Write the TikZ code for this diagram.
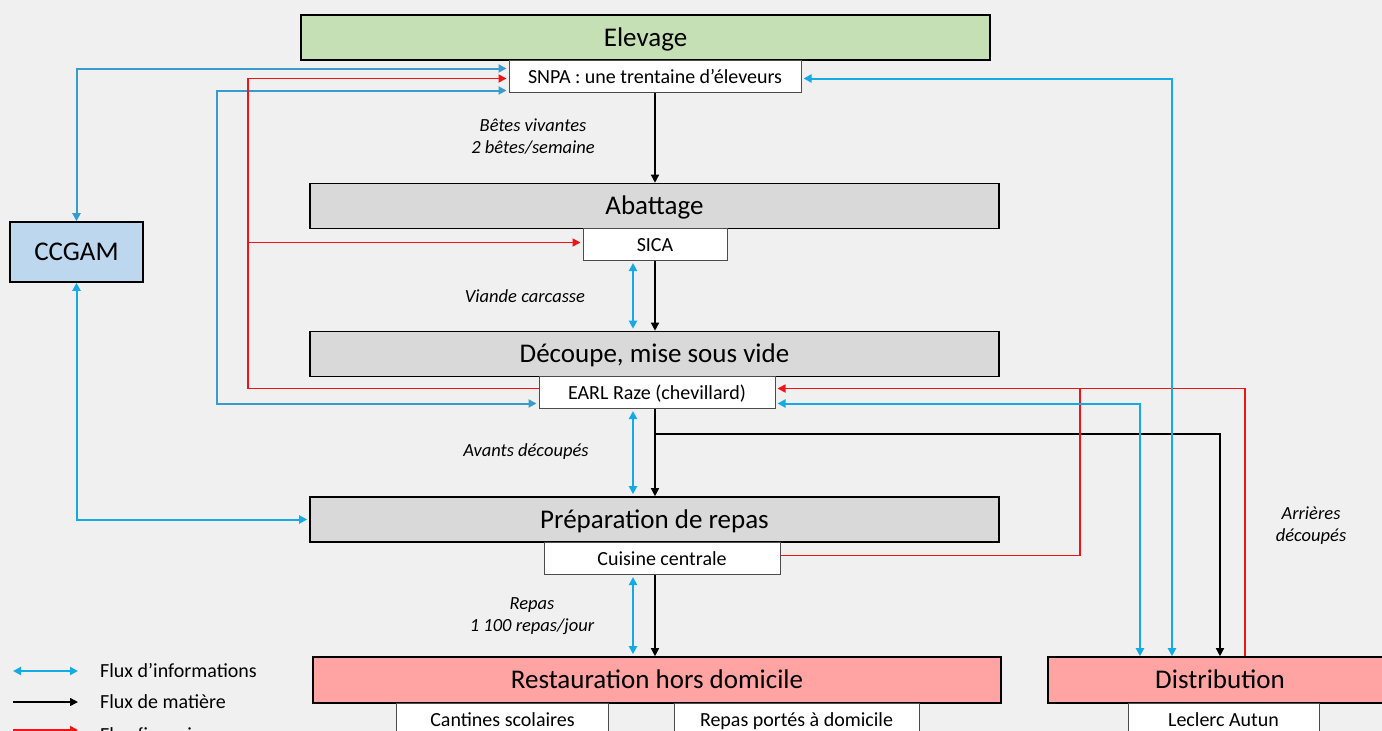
\documentclass[tikz,border=0pt]{standalone}
\usepackage{fontspec}
\setmainfont{Carlito}
\usepackage{xcolor}
\usetikzlibrary{arrows.meta,positioning,calc}
\definecolor{fondgris}{RGB}{240,240,240}
\definecolor{vertelev}{RGB}{197,224,180}
\definecolor{grisetape}{RGB}{217,217,217}
\definecolor{roseaval}{RGB}{255,163,163}
\definecolor{bleuccgam}{RGB}{189,215,238}
\definecolor{bleuinfo}{RGB}{20,170,230}
\definecolor{bleusombre}{RGB}{55,155,205}
\definecolor{rougefin}{RGB}{240,20,20}
\tikzstyle{etape} = [draw, line width=1.6pt, minimum width=689pt, minimum height=45pt, inner sep=0pt, text height=20pt, text depth=3pt, font=\fontsize{27}{32}\selectfont]
\tikzstyle{acteur} = [draw=black!70, line width=1pt, fill=white, minimum height=32pt, inner sep=0pt, text height=15pt, text depth=2pt, anchor=north, font=\fontsize{20}{24}\selectfont]
\tikzstyle{flux} = [font=\fontsize{18.5}{22}\selectfont\itshape, align=center]
\tikzstyle{legende} = [anchor=west, inner sep=0pt, font=\fontsize{20}{24}\selectfont]
\tikzstyle{info} = [line width=2pt, bleuinfo]
\tikzstyle{matiere} = [line width=1.4pt, black]
\tikzstyle{financier} = [line width=1.7pt, rougefin]

\begin{document}
\begin{tikzpicture}[x=1pt, y=-1pt, >={Triangle[length=8pt,width=8pt]}]
\fill[fondgris] (0,0) rectangle (1382,731);
\useasboundingbox (0,0) rectangle (1382,731);

\node[etape, fill=vertelev] (elev) at (645.5,37.5) {Elevage};
\node[acteur, minimum width=292pt] (snpa) at (655,60) {SNPA : une trentaine d’éleveurs};
\node[etape, fill=grisetape] (abat) at (654.5,206) {Abattage};
\node[acteur, minimum width=144pt] (sica) at (655,228) {SICA};
\node[etape, fill=grisetape] (decoup) at (654.5,354) {Découpe, mise sous vide};
\node[acteur, minimum width=236pt] (earl) at (657,376) {EARL Raze (chevillard)};
\node[etape, fill=grisetape] (prep) at (654.5,519.5) {Préparation de repas};
\node[acteur, minimum width=236pt] (cuis) at (662,542) {Cuisine centrale};
\node[etape, fill=roseaval, minimum width=688pt, minimum height=46pt] (resto) at (657,680) {Restauration hors domicile};
\node[acteur, minimum width=212pt] (cant) at (502.5,703) {Cantines scolaires};
\node[acteur, minimum width=245pt] (portes) at (796.5,703) {Repas portés à domicile};
\node[etape, fill=roseaval, minimum width=344pt, minimum height=46pt] (distr) at (1220,680) {Distribution};
\node[acteur, minimum width=191pt] (lecl) at (1223.5,703) {Leclerc Autun};
\node[etape, fill=bleuccgam, minimum width=133pt, minimum height=60pt] (ccgam) at (76.5,252) {CCGAM};

\node[flux] (l1) at (533,137) {Bêtes vivantes\\2 bêtes/semaine};
\node[flux] (l2) at (525,296) {Viande carcasse};
\node[flux] (l3) at (526,452) {Avants découpés};
\node[flux] (l4) at (532,616) {Repas\\1 100 repas/jour};
\node[flux] (l5) at (1311,526) {Arrières\\découpés};

\coordinate (matx) at (655,0);
\coordinate (infx) at (633,0);
\coordinate (rougeg) at (248,0);
\coordinate (bleug) at (217,0);
\coordinate (rouged) at (1080,0);
\coordinate (bifurc) at (655,434);

\draw[matiere,->] (snpa.south -| matx) -- (abat.north -| matx);
\draw[matiere,->] (sica.south -| matx) -- (decoup.north -| matx);
\draw[matiere,->] (earl.south -| matx) -- (prep.north -| matx);
\draw[matiere,->] (cuis.south -| matx) -- (resto.north -| matx);
\draw[matiere,->] (bifurc) -| (distr.north);

\draw[info,<->,shorten <=2pt,shorten >=2pt] (sica.south -| infx) -- (decoup.north -| infx);
\draw[info,<->,shorten <=2pt,shorten >=2pt] (earl.south -| infx) -- (prep.north -| infx);
\draw[info,<->,shorten <=2pt,shorten >=2pt] (cuis.south -| infx) -- (resto.north -| infx);

\draw[info,bleusombre,<->] (ccgam.north) |- ($(snpa.west)+(-2,-8)$);
\draw[info,<->] (ccgam.south) |- ($(prep.west)+(-2,0)$);
\draw[info,bleusombre,<->] ($(snpa.west)+(-2,14)$) -| ($(bleug |- earl.west)+(0,11)$) -- ($(earl.west)+(-2,11)$);

\draw[financier,->] ($(earl.west)+(0,-4)$) -| ($(rougeg |- snpa.west)+(0,2)$) -- ($(snpa.west)+(-2,2)$);
\draw[financier,->] ($(rougeg |- sica.west)+(0,-2)$) -- ($(sica.west)+(-2,-2)$);

\draw[financier,->] ($(distr.north)+(25,0)$) |- ($(earl.east)+(2,-4)$);
\draw[financier] ($(cuis.east)+(0,-3)$) -| ($(rouged |- earl.east)+(0,-4)$);
\draw[info,<->] ($(earl.east)+(2,11)$) -| ($(distr.north)+(-80,0)$);
\draw[info,<->] ($(snpa.east)+(2,2)$) -| ($(distr.north)+(-48,0)$);

\node[legende] (lgi) at (100,671) {Flux d’informations};
\node[legende] (lgm) at (100,702) {Flux de matière};
\node[legende] (lgf) at (100,735) {Flux financiers};
\draw[info,<->] ($(lgi.west)+(-87,0)$) -- ($(lgi.west)+(-22,0)$);
\draw[matiere,->] ($(lgm.west)+(-87,0)$) -- ($(lgm.west)+(-22,0)$);
\draw[financier,->] ($(lgf.west)+(-87,-5)$) -- ($(lgf.west)+(-22,-5)$);
\end{tikzpicture}
\end{document}
